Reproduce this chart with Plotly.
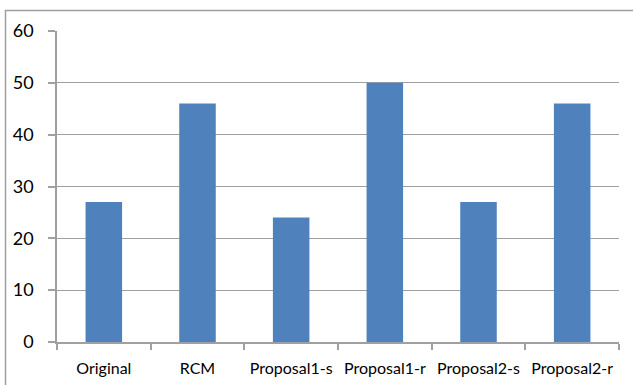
import plotly.graph_objects as go

categories = ["Original", "RCM", "Proposal1-s", "Proposal1-r", "Proposal2-s", "Proposal2-r"]
values = [27, 46, 24, 50, 27, 46]
y_ticks = [0, 10, 20, 30, 40, 50, 60]

GRAY = "#A0A0A0"
FONT = "Lato"

fig = go.Figure(
    go.Bar(
        x=categories,
        y=values,
        marker=dict(color="#4F81BD", line=dict(width=0)),
        width=0.39,
    )
)

W, H = 633, 385
ml, mr, mt, mb = 57, 14, 31, 43
pw, ph = W - ml - mr, H - mt - mb

# outer chart border (left/top visible, right/bottom off-canvas)
bx0 = (5.5 - ml) / pw
by1 = 1 + (mt - 10.5) / ph
fig.add_shape(
    type="rect", xref="paper", yref="paper",
    x0=bx0, x1=1.2, y0=-0.3, y1=by1,
    line=dict(color="#9E9E9E", width=1.5), fillcolor="rgba(0,0,0,0)",
    layer="below",
)

fig.update_layout(
    width=W, height=H,
    margin=dict(l=ml, r=mr, t=mt, b=mb, pad=0, autoexpand=False),
    paper_bgcolor="white", plot_bgcolor="white",
    showlegend=False,
    font=dict(family=FONT, color="black"),
    xaxis=dict(
        type="category", automargin=False,
        showline=True, linecolor=GRAY, linewidth=1.5,
        ticks="outside", tickson="boundaries", ticklen=6, tickcolor=GRAY, tickwidth=1.5,
        tickfont=dict(size=16, family=FONT, color="black"),
        showgrid=False, zeroline=False,
        ticklabelstandoff=11,
    ),
    yaxis=dict(
        range=[0, 60], tickvals=y_ticks, automargin=False,
        showline=True, linecolor=GRAY, linewidth=1.5,
        ticks="outside", ticklen=7, tickcolor=GRAY, tickwidth=1.5,
        showgrid=True, gridcolor=GRAY, gridwidth=1.3,
        zeroline=False,
        tickfont=dict(size=18, family=FONT, color="black"),
        ticklabelstandoff=11,
    ),
)

fig.write_html("out.html")
